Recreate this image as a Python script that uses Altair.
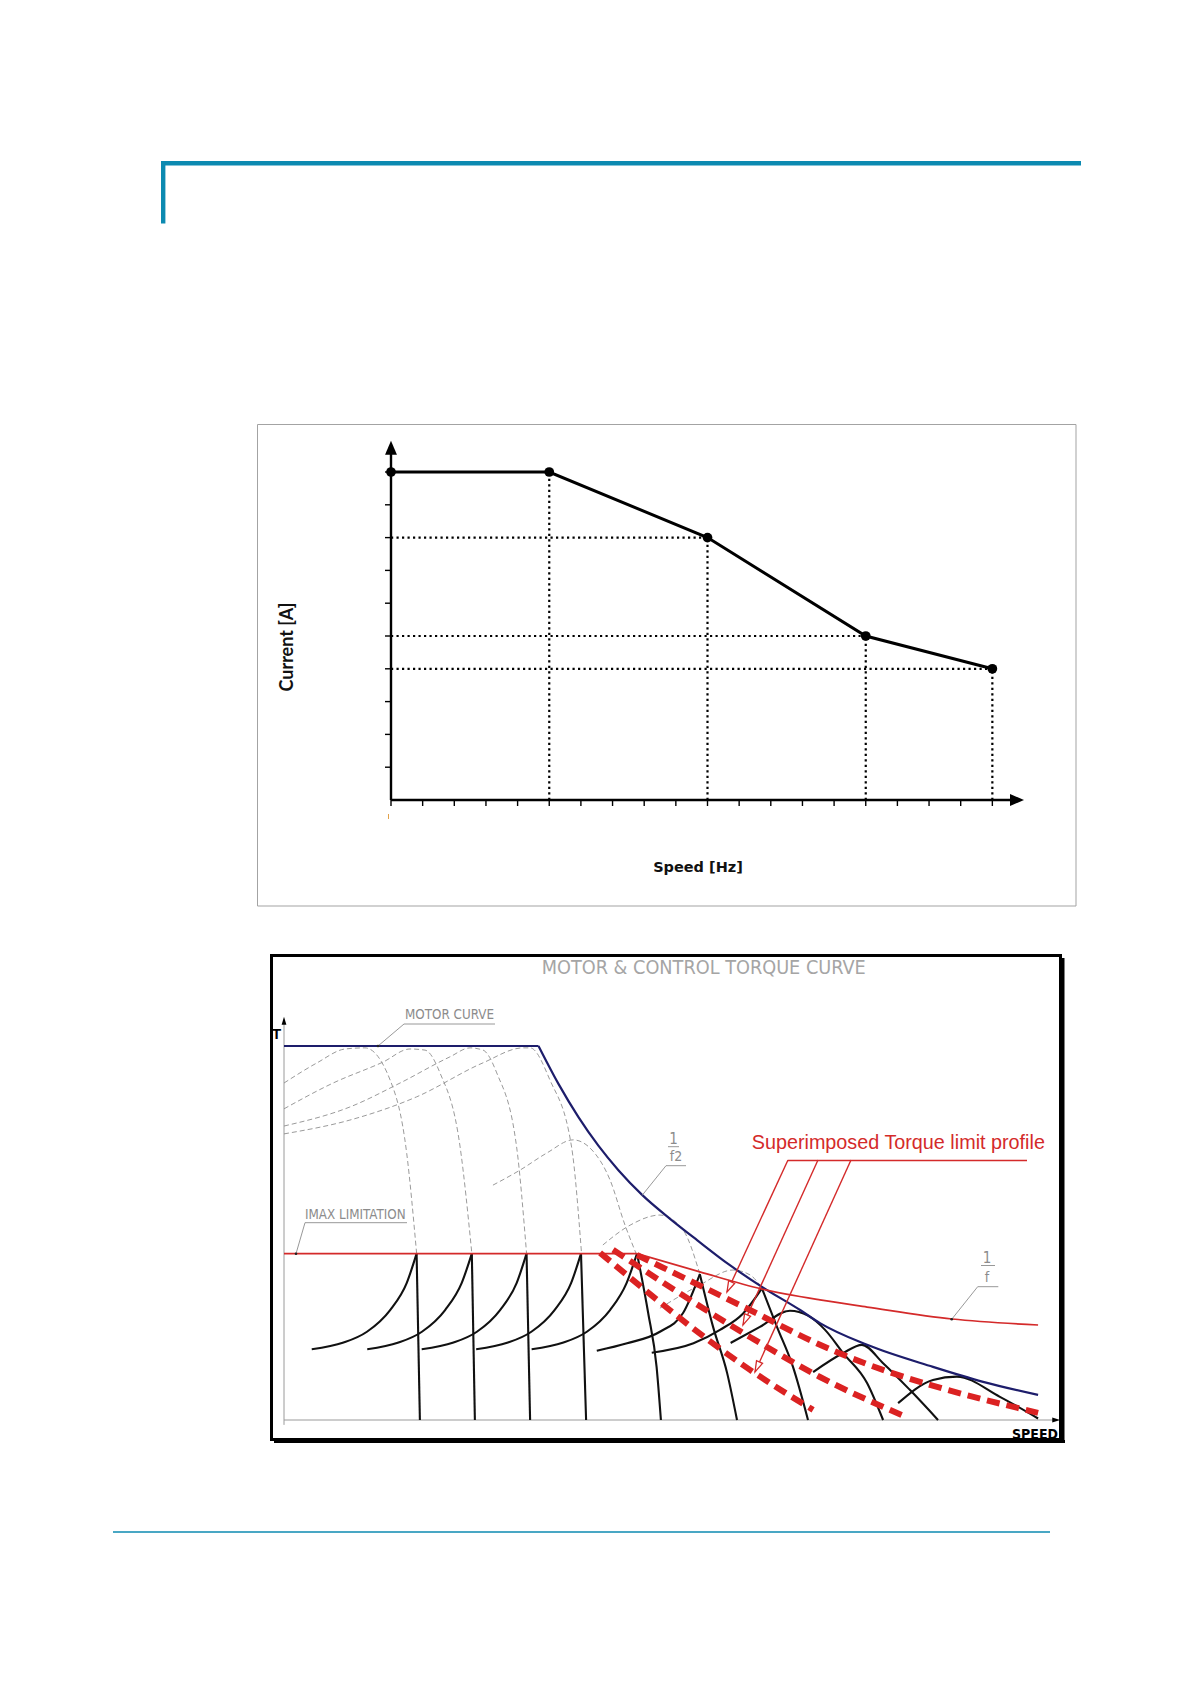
import math
import altair as alt
import pandas as pd

# ===================== chart 1 values (current limit vs speed) =====================
speed_hz = [0, 5, 10, 15, 19]
current_a = [10, 10, 8, 5, 4]
speed_ticks = list(range(0, 20))
current_ticks = list(range(1, 11))
speed_axis_tip = 20.0
current_axis_tip = 10.95
c1_xlabel = "Speed [Hz]"
c1_ylabel = "Current [A]"

# ===================== chart 2 values (per-unit speed s, per-unit torque t) =====================
c2_title = "MOTOR & CONTROL TORQUE CURVE"
motor_flat_s = [0.0, 1.0]
motor_flat_t = [1.0, 1.0]
motor_fw_s = [1.0, 1.079, 1.157, 1.236, 1.314, 1.407, 1.517, 1.623, 1.752, 1.878, 2.028, 2.106, 2.291, 2.550, 2.747, 2.963]
motor_fw_t = [1.0, 0.898, 0.810, 0.733, 0.668, 0.602, 0.538, 0.481, 0.414, 0.356, 0.294, 0.259, 0.201, 0.142, 0.102, 0.067]
imax_s = [0.0, 1.387]
imax_t = [0.445, 0.445]
inv_f_s = [1.387, 1.634, 1.878, 2.106, 2.291, 2.625, 2.963]
inv_f_t = [0.445, 0.396, 0.350, 0.321, 0.302, 0.270, 0.254]
limit_s = [[1.242, 1.831, 2.079], [1.293, 1.831, 2.106, 2.428], [1.387, 1.831, 2.106, 2.963]]
limit_t = [[0.447, 0.134, 0.027], [0.455, 0.222, 0.115, 0.013], [0.441, 0.294, 0.201, 0.019]]
rise_s = [
    [0.109, 0.234, 0.326, 0.417, 0.482, 0.521],
    [0.327, 0.450, 0.542, 0.633, 0.698, 0.738],
    [0.541, 0.666, 0.758, 0.849, 0.914, 0.953],
    [0.755, 0.880, 0.972, 1.063, 1.128, 1.167],
    [0.973, 1.098, 1.190, 1.281, 1.346, 1.387],
    [1.229, 1.348, 1.477, 1.568, 1.634],
    [1.445, 1.609, 1.713, 1.804, 1.878],
]
rise_t = [
    [0.189, 0.207, 0.236, 0.294, 0.366, 0.445],
    [0.189, 0.207, 0.236, 0.294, 0.366, 0.445],
    [0.189, 0.207, 0.236, 0.294, 0.366, 0.445],
    [0.189, 0.207, 0.236, 0.294, 0.366, 0.445],
    [0.189, 0.207, 0.236, 0.294, 0.366, 0.445],
    [0.185, 0.205, 0.236, 0.286, 0.390],
    [0.180, 0.205, 0.241, 0.285, 0.352],
]
fall_s = [[0.521, 0.534], [0.738, 0.750], [0.953, 0.967], [1.167, 1.187],
          [1.387, 1.431, 1.464, 1.481], [1.634, 1.686, 1.741, 1.780], [1.878, 1.937, 2.000, 2.059]]
fall_t = [[0.445, 0.0], [0.445, 0.0], [0.445, 0.0], [0.445, 0.0],
          [0.445, 0.286, 0.142, 0.0], [0.390, 0.249, 0.126, 0.0], [0.352, 0.249, 0.142, 0.0]]
hump_s = [[1.755, 1.870, 1.988, 2.059, 2.126, 2.197, 2.291, 2.354],
          [2.079, 2.197, 2.271, 2.354, 2.460, 2.570],
          [2.413, 2.550, 2.644, 2.813, 2.963]]
hump_t = [[0.206, 0.249, 0.292, 0.279, 0.241, 0.179, 0.099, 0.0],
          [0.128, 0.179, 0.201, 0.152, 0.080, 0.0],
          [0.045, 0.107, 0.116, 0.062, 0.004]]
natural_s = [
    [0.0, 0.130, 0.240, 0.318, 0.417, 0.482, 0.521],
    [0.0, 0.193, 0.389, 0.495, 0.554, 0.613, 0.692, 0.738],
    [0.0, 0.259, 0.456, 0.652, 0.731, 0.782, 0.836, 0.914, 0.953],
    [0.0, 0.259, 0.521, 0.782, 0.939, 0.967, 1.045, 1.130, 1.169],
    [0.821, 0.927, 1.033, 1.136, 1.210, 1.281, 1.340, 1.383],
    [1.253, 1.360, 1.477, 1.568, 1.634],
    [1.477, 1.634, 1.764, 1.831, 1.878],
]
natural_t = [
    [0.901, 0.955, 0.992, 0.995, 0.909, 0.714, 0.446],
    [0.832, 0.901, 0.957, 0.992, 0.989, 0.928, 0.730, 0.446],
    [0.786, 0.837, 0.901, 0.971, 0.995, 0.989, 0.928, 0.730, 0.446],
    [0.765, 0.802, 0.864, 0.955, 0.995, 0.995, 0.909, 0.730, 0.446],
    [0.628, 0.668, 0.714, 0.749, 0.722, 0.642, 0.521, 0.446],
    [0.468, 0.521, 0.548, 0.508, 0.390],
    [0.299, 0.361, 0.401, 0.388, 0.353],
]
s_axis_tip = 3.05
t_axis_tip = 1.078
lbl_motor = "MOTOR CURVE"
lbl_imax = "IMAX LIMITATION"
lbl_profile = "Superimposed Torque limit profile"

# ===================== layout (page pixels) =====================
W, H, M = 1174, 1560, 8
C1_X0, C1_XPU = 391.0, 31.65
C1_Y0, C1_YPU = 800.0, 32.8
C2_X0, C2_XPU = 284.0, 254.5
C2_Y0, C2_YPU = 1420.0, 374.0

TEAL = "#0c8ab1"
RED = "#d42a2a"
DRED = "#db2222"
NAVY = "#1d1d6b"
GRAY = "#8c8c8c"
NARROW = "Liberation Sans Narrow, DejaVu Sans Condensed, Roboto Condensed, Liberation Sans, sans-serif"


def sx(x0, ppu):
    return alt.Scale(domain=[(M - x0) / ppu, (M + W - x0) / ppu], nice=False, zero=False)


def sy(y0, ppu):
    return alt.Scale(domain=[(y0 - (M + H)) / ppu, (y0 - M) / ppu], nice=False, zero=False)


SYS = {
    "page": (alt.Scale(domain=[M, M + W], nice=False, zero=False),
             alt.Scale(domain=[M, M + H], reverse=True, nice=False, zero=False)),
    "c1": (sx(C1_X0, C1_XPU), sy(C1_Y0, C1_YPU)),
    "c2": (sx(C2_X0, C2_XPU), sy(C2_Y0, C2_YPU)),
}


def enc(sys, x2=False, y2=False, **kw):
    xs, ys = SYS[sys]
    e = dict(x=alt.X("x", type="quantitative", scale=xs, axis=None),
             y=alt.Y("y", type="quantitative", scale=ys, axis=None))
    if x2:
        e["x2"] = alt.X2(field="x2")
    if y2:
        e["y2"] = alt.Y2(field="y2")
    e.update(kw)
    return e


def segs(rows, sys, **mk):
    df = pd.DataFrame(rows, columns=["x", "y", "x2", "y2"])
    return alt.Chart(df).mark_rule(**mk).encode(**enc(sys, x2=True, y2=True))


def text(label, x, y, **mk):
    df = pd.DataFrame({"x": [x], "y": [y], "label": [label]})
    return alt.Chart(df).mark_text(**mk).encode(**enc("page"), text=alt.Text("label:N"))


def long_df(s_lists, t_lists, prefix):
    rows = []
    for i, (ss, ts) in enumerate(zip(s_lists, t_lists)):
        for j, (s, t) in enumerate(zip(ss, ts)):
            rows.append({"x": s, "y": t, "id": f"{prefix}{i}", "o": j})
    return pd.DataFrame(rows)


def curves(df, **mk):
    return alt.Chart(df).mark_line(**mk).encode(**enc("c2", detail="id:N", order="o:Q"))


layers = []

# ---------- page decoration ----------
layers.append(segs([[161, 163.3, 1081, 163.3]], "page", color=TEAL, strokeWidth=4.6))
layers.append(segs([[163.2, 161, 163.2, 223.5]], "page", color=TEAL, strokeWidth=4.4))
layers.append(segs([[113, 1532, 1050, 1532]], "page", color=TEAL, strokeWidth=1.5))

# ---------- chart 1 ----------
box1 = pd.DataFrame({"x": [257.5], "y": [424.5], "x2": [1076], "y2": [906]})
layers.append(alt.Chart(box1).mark_rect(fillOpacity=0, stroke="#a3a3a3", strokeWidth=1)
              .encode(**enc("page", x2=True, y2=True)))
layers.append(segs([[388.5, 814, 388.5, 819]], "page", color="#e2a24a", strokeWidth=1))

pts = pd.DataFrame({"x": speed_hz, "y": current_a})
cmax = max(current_a)
hdots = pd.DataFrame([[0, c, s, c] for s, c in zip(speed_hz, current_a) if c < cmax],
                     columns=["x", "y", "x2", "y2"])
vdots = pd.DataFrame([[s, 0, s, c] for s, c in zip(speed_hz, current_a) if s > 0],
                     columns=["x", "y", "x2", "y2"])
for d in (hdots, vdots):
    layers.append(alt.Chart(d).mark_rule(color="black", strokeWidth=2.2, strokeDash=[2.2, 3.3])
                  .encode(**enc("c1", x2=True, y2=True)))

# axes
layers.append(segs([[0, 0, 0, current_axis_tip - 0.35]], "c1", color="black", strokeWidth=2.4))
layers.append(segs([[0, 0, speed_axis_tip - 0.35, 0]], "c1", color="black", strokeWidth=2.4))
xt = pd.DataFrame({"x": speed_ticks, "y": [0] * len(speed_ticks), "y2": [0] * len(speed_ticks)})
layers.append(alt.Chart(xt).mark_rule(color="black", strokeWidth=1.4, y2Offset=6)
              .encode(**enc("c1", y2=True)))
yt = pd.DataFrame({"x": [0] * len(current_ticks), "x2": [0] * len(current_ticks), "y": current_ticks})
layers.append(alt.Chart(yt).mark_rule(color="black", strokeWidth=1.4, x2Offset=-6)
              .encode(**enc("c1", x2=True)))
layers.append(alt.Chart(pd.DataFrame({"x": [0], "y": [current_axis_tip]}))
              .mark_point(shape="M0,-1L-0.85,1L0.85,1Z", size=196, filled=True, color="black",
                          opacity=1, yOffset=7).encode(**enc("c1")))
layers.append(alt.Chart(pd.DataFrame({"x": [speed_axis_tip], "y": [0]}))
              .mark_point(shape="M1,0L-1,-0.85L-1,0.85Z", size=196, filled=True, color="black",
                          opacity=1, xOffset=-7).encode(**enc("c1")))

layers.append(alt.Chart(pts).mark_line(color="black", strokeWidth=3).encode(**enc("c1")))
layers.append(alt.Chart(pts).mark_circle(color="black", size=95, opacity=1).encode(**enc("c1")))

layers.append(text(c1_ylabel, 288, 647, angle=270, font="Lato", fontWeight="bold",
                   fontSize=18, color="#111", align="center", baseline="middle"))
layers.append(text(c1_xlabel, 698, 868, font="DejaVu Sans", fontWeight="bold",
                   fontSize=14.5, color="#111", align="center", baseline="middle"))

# ---------- chart 2 ----------
# axes
layers.append(segs([[0, -0.013, 0, t_axis_tip - 0.015], [0, 0, s_axis_tip - 0.015, 0]], "c2",
                   color="#9a9a9a", strokeWidth=1))
layers.append(alt.Chart(pd.DataFrame({"x": [0], "y": [t_axis_tip]}))
              .mark_point(shape="M0,-1L-0.6,1L0.6,1Z", size=64, filled=True, color="black",
                          opacity=1, yOffset=4).encode(**enc("c2")))
layers.append(alt.Chart(pd.DataFrame({"x": [s_axis_tip], "y": [0]}))
              .mark_point(shape="M1,0L-1,-0.6L-1,0.6Z", size=64, filled=True, color="black",
                          opacity=1, xOffset=-4).encode(**enc("c2")))

# natural motor curves (thin grey dashed)
layers.append(curves(long_df(natural_s, natural_t, "n"), color="#8f8f8f", strokeWidth=0.9,
                     strokeDash=[5, 3], interpolate="monotone"))
# controlled curves (black)
layers.append(curves(long_df(rise_s, rise_t, "r"), color="#111", strokeWidth=2.1, interpolate="monotone"))
layers.append(curves(long_df(fall_s, fall_t, "f"), color="#111", strokeWidth=2.1, interpolate="monotone"))
layers.append(curves(long_df(hump_s, hump_t, "h"), color="#111", strokeWidth=2.1, interpolate="monotone"))
# motor curve (navy)
layers.append(curves(long_df([motor_flat_s], [motor_flat_t], "m"), color=NAVY, strokeWidth=2.2))
layers.append(curves(long_df([motor_fw_s], [motor_fw_t], "w"), color=NAVY, strokeWidth=2.2,
                     interpolate="monotone"))
# Imax and 1/f limit (red thin)
layers.append(curves(long_df([imax_s], [imax_t], "i"), color=RED, strokeWidth=1.7))
layers.append(curves(long_df([inv_f_s], [inv_f_t], "v"), color=RED, strokeWidth=1.7,
                     interpolate="monotone"))
# superimposed torque limit profiles (red thick dashed)
layers.append(curves(long_df(limit_s, limit_t, "l"), color=DRED, strokeWidth=6,
                     strokeDash=[13, 7], interpolate="monotone"))

# annotations: leaders
layers.append(segs([[404, 1024, 495, 1024], [404, 1024, 378, 1046],
                    [305, 1222.7, 407, 1222.7], [305, 1222.7, 296, 1253.7],
                    [668, 1146.7, 679, 1146.7], [666, 1165.7, 686, 1165.7], [666, 1165.7, 642, 1195.5],
                    [981, 1265.5, 995, 1265.5], [977.7, 1286.7, 998.3, 1286.7], [977.7, 1286.7, 951.7, 1319.3]],
                   "page", color=GRAY, strokeWidth=0.9))
layers.append(alt.Chart(pd.DataFrame({"x": [378, 296, 951.7], "y": [1046, 1253.7, 1319.3]}))
              .mark_circle(color="#222", size=7, opacity=1).encode(**enc("page")))

# red profile arrows
arrow_start = [(788, 1160), (818, 1160), (851, 1160)]
arrow_tip = [(727, 1292), (743, 1325), (755, 1372)]
layers.append(segs([[788, 1160.5, 1027, 1160.5]] + [[a[0], a[1], b[0], b[1]] for a, b in zip(arrow_start, arrow_tip)],
                   "page", color=RED, strokeWidth=1.4))
for a, b in zip(arrow_start, arrow_tip):
    dx, dy = b[0] - a[0], b[1] - a[1]
    L = math.hypot(dx, dy)
    cx, cy = b[0] - 5.5 * dx / L, b[1] - 5.5 * dy / L
    ang = math.degrees(math.atan2(-dx, dy))
    layers.append(alt.Chart(pd.DataFrame({"x": [cx], "y": [cy]}))
                  .mark_point(shape="M0,1L-0.6,-1L0.6,-1Z", size=121, filled=True, fill="white",
                              fillOpacity=1, stroke=RED, strokeWidth=1.3, opacity=1, angle=ang)
                  .encode(**enc("page")))

# texts
layers.append(text(c2_title, 541.7, 973.5, font=NARROW, fontSize=19.7, color="#a5a5a5",
                   align="left", baseline="alphabetic"))
layers.append(text(lbl_motor, 405, 1019.3, font=NARROW, fontSize=13.3, color=GRAY,
                   align="left", baseline="alphabetic"))
layers.append(text(lbl_imax, 305, 1219.3, font=NARROW, fontSize=13.3, color=GRAY,
                   align="left", baseline="alphabetic"))
layers.append(text("1", 673.5, 1144, font=NARROW, fontSize=15, color=GRAY, align="center", baseline="alphabetic"))
layers.append(text("f2", 676, 1160.5, font=NARROW, fontSize=14, color=GRAY, align="center", baseline="alphabetic"))
layers.append(text("1", 987, 1263.3, font=NARROW, fontSize=15, color=GRAY, align="center", baseline="alphabetic"))
layers.append(text("f", 987, 1282, font=NARROW, fontSize=14, color=GRAY, align="center", baseline="alphabetic"))
layers.append(text(lbl_profile, 751.7, 1149, font="Liberation Sans", fontSize=19.8, color=RED,
                   align="left", baseline="alphabetic"))
layers.append(text("T", 276.5, 1039, font="Liberation Sans", fontWeight="bold", fontSize=15,
                   color="black", align="center", baseline="alphabetic"))
layers.append(text("SPEED", 1058, 1439, font=NARROW, fontWeight="bold", fontSize=14,
                   color="black", align="right", baseline="alphabetic"))

# chart 2 frame with drop shadow
box2 = pd.DataFrame({"x": [271.5], "y": [955.5], "x2": [1060.5], "y2": [1439.5]})
layers.append(alt.Chart(box2).mark_rect(fillOpacity=0, stroke="black", strokeWidth=3)
              .encode(**enc("page", x2=True, y2=True)))
layers.append(segs([[1063, 958, 1063, 1443], [274, 1441.5, 1065, 1441.5]], "page",
                   color="black", strokeWidth=3))

chart = (alt.layer(*layers)
         .resolve_scale(x="independent", y="independent")
         .properties(width=W, height=H, padding=0, autosize=alt.AutoSizeParams(type="none"))
         .configure_view(strokeWidth=0))

chart.save("out.html", embed_options={"renderer": "svg", "actions": False})
